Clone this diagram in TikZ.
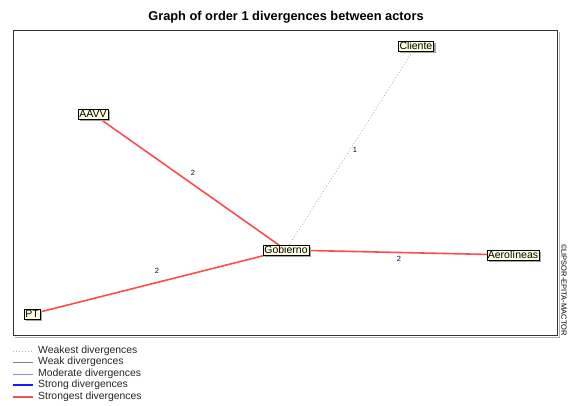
\documentclass[tikz,border=0pt]{standalone}
\usepackage{fontspec}
\setmainfont{Liberation Sans}
\usetikzlibrary{shadows}
\definecolor{nodefill}{HTML}{FFFFE0}
\definecolor{strongest}{HTML}{FF4B4B}
\definecolor{weakest}{HTML}{B0B0B0}
\definecolor{lbl}{HTML}{000040}
\tikzset{
  actor/.style={draw=black, fill=nodefill, inner sep=1.2pt, font=\fontsize{10.5}{11}\selectfont,
    drop shadow={shadow xshift=2pt, shadow yshift=-2pt, fill=gray!70, opacity=1}},
  strongestline/.style={draw=strongest, line width=1.6pt},
  weakestline/.style={draw=weakest, dash pattern=on 1pt off 2pt, line width=0.7pt},
  elabel/.style={font=\fontsize{7.5}{8}\selectfont, text=lbl, inner sep=1pt},
  legtext/.style={anchor=west, font=\fontsize{10.4}{11}\selectfont, text=black!85, inner sep=0pt}
}
\begin{document}
\begin{tikzpicture}[x=1pt,y=-1pt]
\useasboundingbox (0,0) rectangle (568,406);
% title
\node[font=\bfseries\fontsize{12.8}{13}\selectfont] (title) at (286,17) {Graph of order 1 divergences between actors};
% frame
\draw[gray!60, line width=1pt] (15,337) -- (559,337) -- (559,32);
\draw[black!80, line width=0.9pt] (13,30) rectangle (557,335);
% nodes coordinates
\coordinate (cC) at (416,46);
\coordinate (cA) at (93,114);
\coordinate (cG) at (286,250);
\coordinate (cR) at (513,255);
\coordinate (cP) at (32,314);
% edges
\draw[weakestline] (cG) -- (cC);
\draw[strongestline] (cA) -- (cG);
\draw[strongestline] (cG) -- (cR);
\draw[strongestline] (cP) -- (cG);
\node[elabel] (l1) at (355,150) {1};
\node[elabel] (l2) at (193,173) {2};
\node[elabel] (l3) at (399,259) {2};
\node[elabel] (l4) at (157,271) {2};
% nodes
\node[actor] (Cliente) at (cC) {Cliente};
\node[actor] (AAVV) at (cA) {AAVV};
\node[actor] (Gobierno) at (cG) {Gobierno};
\node[actor] (Aerolineas) at (cR) {Aerolíneas};
\node[actor] (PT) at (cP) {PT};
% copyright
\node[rotate=-90, font=\fontsize{7.5}{8}\selectfont, inner sep=0pt, anchor=west] (copy) at (564,244) {©LIPSOR-EPITA-MACTOR};
% legend
\coordinate (g1a) at (13,351); \coordinate (g1b) at (33,351);
\coordinate (g2a) at (13,362); \coordinate (g2b) at (33,362);
\coordinate (g3a) at (13,374); \coordinate (g3b) at (33,374);
\coordinate (g4a) at (13,385); \coordinate (g4b) at (33,385);
\coordinate (g5a) at (13,397); \coordinate (g5b) at (33,397);
\draw[weakestline] (g1a) -- (g1b);
\draw[gray, line width=0.8pt] (g2a) -- (g2b);
\draw[blue!45, line width=1pt] (g3a) -- (g3b);
\draw[blue!90, line width=1.4pt] (g4a) -- (g4b);
\draw[strongestline] (g5a) -- (g5b);
\node[legtext] (t1) at (38,351) {Weakest divergences};
\node[legtext] (t2) at (38,362) {Weak divergences};
\node[legtext] (t3) at (38,374) {Moderate divergences};
\node[legtext] (t4) at (38,385) {Strong divergences};
\node[legtext] (t5) at (38,397) {Strongest divergences};
\end{tikzpicture}
\end{document}
